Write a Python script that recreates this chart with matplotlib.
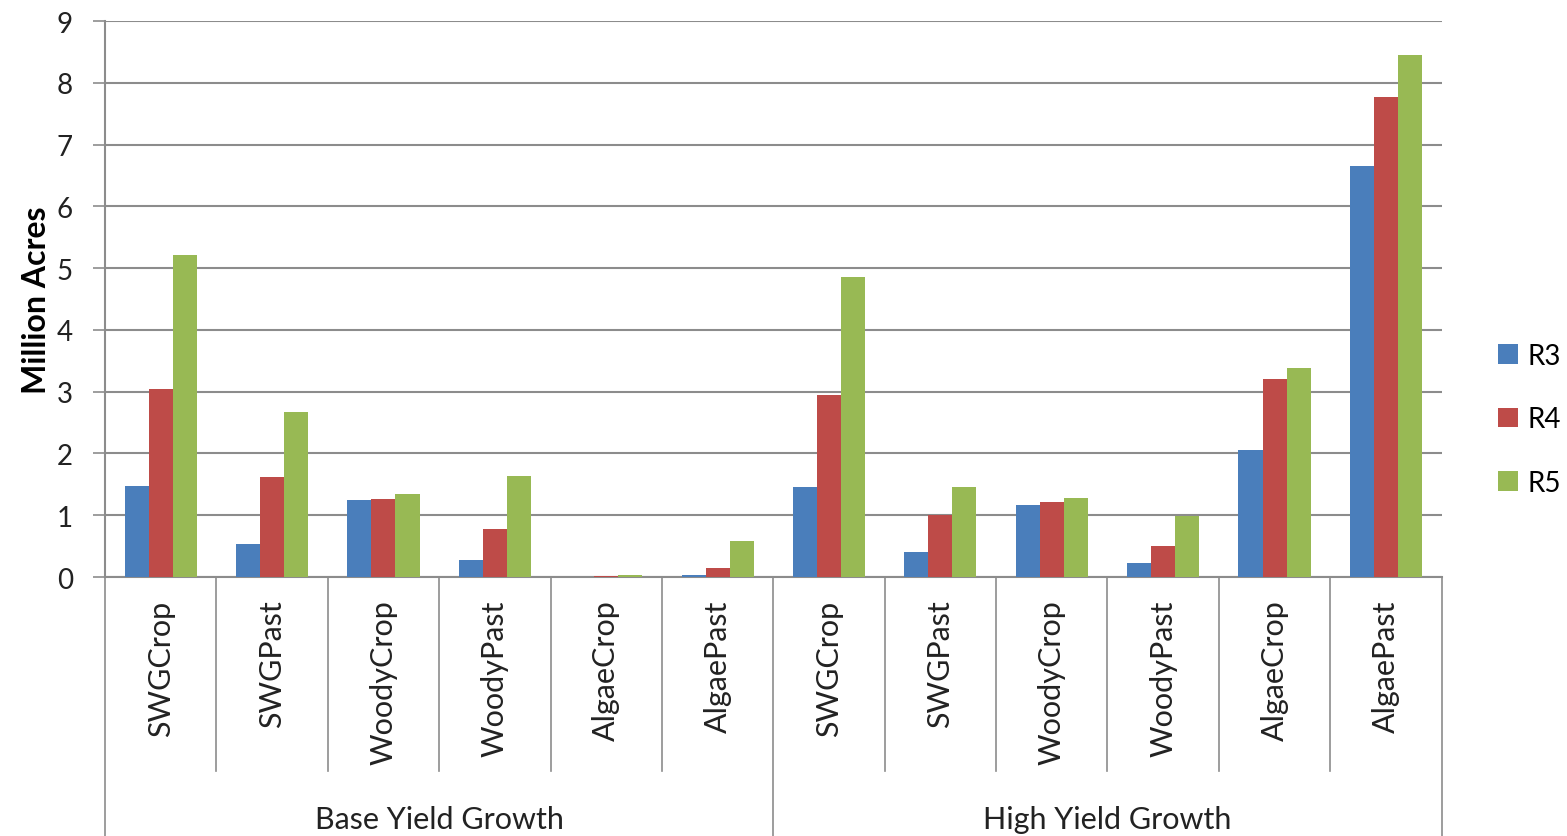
import matplotlib
matplotlib.use("Agg")
import matplotlib.pyplot as plt
import numpy as np

plt.rcParams['font.family'] = ['Lato', 'DejaVu Sans']

categories = ["SWGCrop", "SWGPast", "WoodyCrop", "WoodyPast", "AlgaeCrop", "AlgaePast",
              "SWGCrop", "SWGPast", "WoodyCrop", "WoodyPast", "AlgaeCrop", "AlgaePast"]
groups = ["Base Yield Growth", "High Yield Growth"]
series_names = ["R3", "R4", "R5"]
r3 = [1.48, 0.53, 1.25, 0.27, 0.00, 0.03, 1.46, 0.40, 1.17, 0.23, 2.06, 6.66]
r4 = [3.04, 1.62, 1.27, 0.77, 0.01, 0.14, 2.94, 1.00, 1.22, 0.50, 3.20, 7.77]
r5 = [5.21, 2.67, 1.35, 1.63, 0.03, 0.59, 4.86, 1.46, 1.28, 0.99, 3.39, 8.45]
colors = ["#4a7ebb", "#be4b48", "#98b954"]
yticks = list(range(0, 10))

fig = plt.figure(figsize=(15.67, 8.37), dpi=100)
ax = fig.add_axes([0.067, 0.3094, 0.853, 0.6643])

x = np.arange(len(categories))
bw = 0.216
for i, (vals, name, c) in enumerate(zip([r3, r4, r5], series_names, colors)):
    ax.bar(x + (i - 1) * bw, vals, width=bw, color=c, label=name, zorder=3)

ax.set_xlim(-0.5, len(categories) - 0.5)
ax.set_ylim(0, 9)
ax.set_yticks(yticks)
ax.set_yticklabels([str(t) for t in yticks], fontsize=20, color="#222222")
ax.yaxis.grid(True, color="#8c8c8c", linewidth=1.5, zorder=0)
ax.set_axisbelow(True)
ax.tick_params(axis='y', length=9, width=1.2, color="#8c8c8c", pad=14)
ax.set_xticks([])
for s in ["top", "right"]:
    ax.spines[s].set_visible(False)
ax.spines["left"].set_color("#8c8c8c")
ax.spines["left"].set_linewidth(1.5)
ax.spines["bottom"].set_color("#8c8c8c")
ax.spines["bottom"].set_linewidth(1.5)
ax.set_ylabel("Million Acres", fontsize=23, fontweight="bold", labelpad=4)

trans = ax.get_xaxis_transform()
n = len(categories)
for k in range(1, n):
    if k == 6:
        continue
    ax.plot([k - 0.5, k - 0.5], [0, -0.349], transform=trans, color="#8c8c8c",
            linewidth=1.2, clip_on=False)
for k in [0, 6, 12]:
    ax.plot([k - 0.5, k - 0.5], [0, -0.47], transform=trans, color="#8c8c8c",
            linewidth=1.2, clip_on=False)
for k, lab in enumerate(categories):
    ax.text(k, -0.04, lab, transform=trans, rotation=90, ha="center", va="top",
            fontsize=22, color="#222222")
for g, lab in enumerate(groups):
    ax.text(g * 6 + 2.5, -0.435, lab, transform=trans, ha="center", va="center",
            fontsize=22, color="#222222")

leg = ax.legend(loc="center left", bbox_to_anchor=(1.042, 0.284), frameon=False,
                fontsize=20, handlelength=0.72, handleheight=0.72, labelspacing=1.35,
                handletextpad=0.35, borderaxespad=0, borderpad=0)

fig.savefig("out.png", dpi=100)
